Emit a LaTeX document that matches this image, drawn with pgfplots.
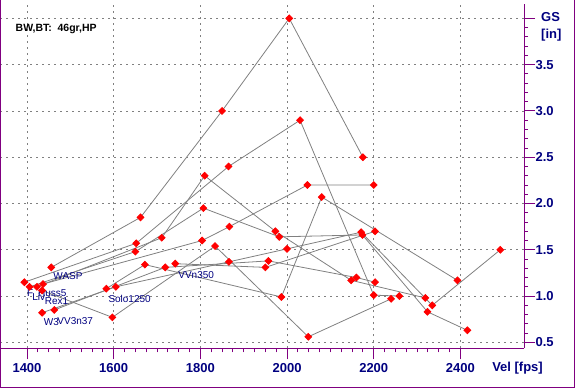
\documentclass[border=0pt]{standalone}
\usepackage{pgfplots}
\pgfplotsset{compat=1.18}
\usepackage{fontspec}
\setmainfont{Liberation Sans}
\definecolor{frm}{RGB}{128,0,128}
\definecolor{nav}{RGB}{0,0,128}
\definecolor{gln}{RGB}{128,128,128}
\definecolor{dot}{RGB}{255,0,0}
\tikzset{lbl/.style={font=\fontsize{10}{11}\selectfont, text=nav, anchor=north west, inner sep=0pt}}
\begin{document}
\begin{tikzpicture}[x=1pt,y=1pt]
\path (0,0) rectangle (575,388);
\begin{axis}[
  at={(0,43)}, anchor=origin,
  scale only axis, width=524pt, height=345pt,
  xmin=1338.9, xmax=2546.8, ymin=0.435, ymax=4.159,
  axis x line=bottom, axis y line=right,
  axis line style={-, frm, line width=1pt},
  xtick={1400,1600,...,2400}, ytick={0.5,1.0,...,4.0},
  minor x tick num=7, minor y tick num=4,
  tick align=outside, major tick length=11pt, minor tick length=4pt,
  every tick/.style={frm, line width=0.9pt},
  grid=major, major grid style={gln, dash pattern=on 2pt off 4pt, line width=0.8pt},
  xticklabels={1400,1600,1800,2000,2200,2400},
  yticklabels={0.5,1.0,1.5,2.0,2.5,3.0,3.5,},
  xticklabel style={font=\fontsize{13}{15}\selectfont\bfseries, text=nav, yshift=-1pt},
  yticklabel style={font=\fontsize{13}{15}\selectfont\bfseries, text=nav, xshift=-3pt},
  clip=false,
  every axis plot post/.style={gln, solid, line width=0.8pt, mark=square*, mark size=2.4pt,
     mark options={dot, fill=dot, draw=dot, rotate=45, solid}},
]
% WASP
\addplot coordinates {(1456,1.31) (1662,1.85) (1850,3.0) (2005,4.0) (2175,2.5)};
% F
\addplot coordinates {(1394,1.15) (1652,1.57) (1865,2.4) (2030,2.9) (2200,1.01) (2259,1.0)};
% Liv
\addplot coordinates {(1406,1.10) (1650,1.48) (1807,1.95) (1982,1.64) (2174,1.66) (2324,0.83) (2416,0.63)};
% Huss5
\addplot coordinates {(1423,1.10) (1711,1.63) (1810,2.3) (1973,1.70) (2148,1.17) (2319,0.98)};
% S5
\addplot coordinates {(1437,1.13) (1804,1.6) (1867,1.75) (2047,2.2) (2200,2.2)};
% Rex1
\addplot coordinates {(1435,1.06) (1597,0.77) (1834,1.54) (2049,0.56) (2240,0.97)};
% W3
\addplot coordinates {(1435,0.82) (1605,1.10) (1866,1.37) (2000,1.51) (2171,1.69) (2335,0.90) (2492,1.50)};
% VV3n37
\addplot coordinates {(1463,0.85) (1719,1.31) (1957,1.38) (2160,1.20) (2203,1.15)};
% Solo1250
\addplot coordinates {(1583,1.08) (1672,1.34) (1987,0.99) (2080,2.07) (2393,1.17)};
% VVn350
\addplot coordinates {(1742,1.35) (1950,1.31) (2203,1.70)};
\node[lbl] at (axis cs:1456,1.31) [xshift=2pt,yshift=-5pt] {WASP};
\node[lbl] at (axis cs:1394,1.15) [xshift=2.5pt,yshift=-7pt] {F};
\node[lbl] at (axis cs:1406,1.10) [xshift=2.5pt,yshift=-6pt] {Liv};
\node[lbl] at (axis cs:1423,1.10) [xshift=1pt,yshift=-3pt] {Huss5};
\node[lbl] at (axis cs:1435,1.06) [xshift=2.5pt,yshift=-7pt] {Rex1};
\node[lbl] at (axis cs:1435,0.82) [xshift=1.5pt,yshift=-6pt] {W3};
\node[lbl] at (axis cs:1463,0.85) [xshift=3pt,yshift=-7.5pt] {VV3n37};
\node[lbl] at (axis cs:1583,1.08) [xshift=2pt,yshift=-6pt] {Solo1250};
\node[lbl] at (axis cs:1742,1.35) [xshift=3pt,yshift=-7.5pt] {VVn350};
\end{axis}
\draw[frm, line width=1pt] (0.5,388) -- (0.5,0.5) -- (574.5,0.5) -- (574.5,388);
\node[anchor=base west, inner sep=0pt, font=\fontsize{10.5}{12}\selectfont\bfseries] at (15,356.5) {BW,BT:\ \ 46gr,HP};
\node[anchor=base west, inner sep=0pt, text=nav, font=\fontsize{13}{15}\selectfont\bfseries] at (492,17) {Vel [fps]};
\node[anchor=base west, inner sep=0pt, text=nav, font=\fontsize{13}{15}\selectfont\bfseries] at (541,366.5) {GS};
\node[anchor=base west, inner sep=0pt, text=nav, font=\fontsize{13}{15}\selectfont\bfseries] at (541,350) {[in]};
\end{tikzpicture}
\end{document}
